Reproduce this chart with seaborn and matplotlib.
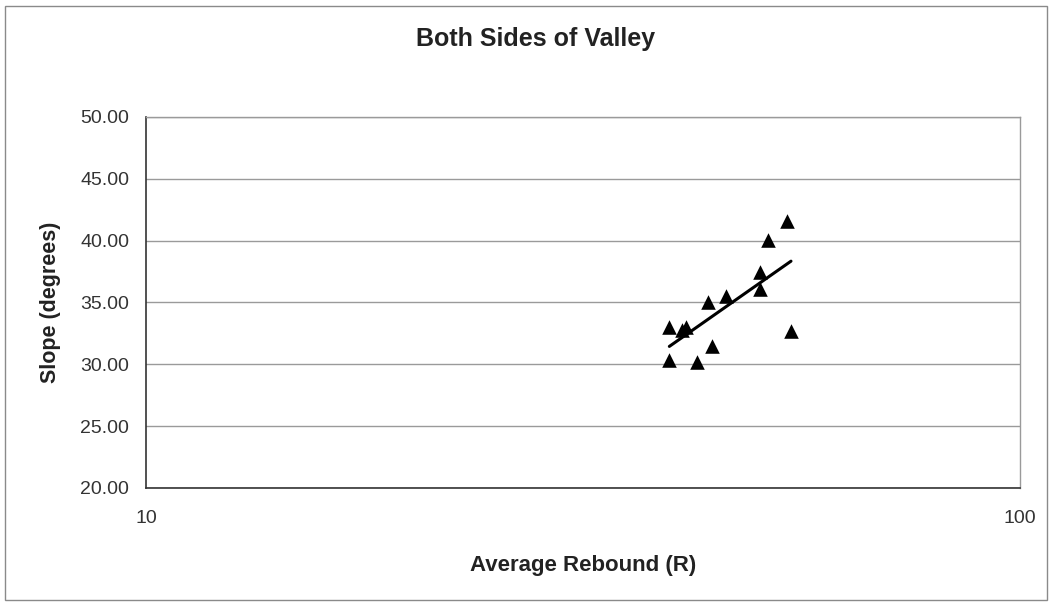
import numpy as np
import pandas as pd
import matplotlib
matplotlib.use("Agg")
import matplotlib.pyplot as plt
import seaborn as sns
from matplotlib.patches import Rectangle
from matplotlib.ticker import FixedLocator, FixedFormatter, NullLocator

# data
rebound = [39.7, 39.7, 41.0, 41.5, 42.7, 44.0, 44.4, 46.1, 50.4, 50.4, 51.5, 54.1, 54.7]
slope = [33.0, 30.35, 32.8, 33.0, 30.2, 35.0, 31.5, 35.5, 37.5, 36.1, 40.05, 41.6, 32.7]

y_ticks = [20, 25, 30, 35, 40, 45, 50]
x_ticks = [10, 100]
x_tick_labels = ["10", "100"]

df = pd.DataFrame({"rebound": rebound, "slope": slope})

sns.set_style("white")
plt.rcParams["font.family"] = ["Liberation Sans", "DejaVu Sans"]

fig = plt.figure(figsize=(10.51, 6.03), dpi=100)
ax = fig.add_axes([146 / 1051, 1 - 488 / 603, (1020 - 146) / 1051, (488 - 117) / 603])

sns.regplot(data=df, x="rebound", y="slope", logx=True, ci=None, ax=ax,
            marker="^", color="black",
            scatter_kws={"s": 110, "linewidths": 0, "alpha": 1, "zorder": 3},
            line_kws={"linewidth": 2.2, "zorder": 2})

ax.set_xscale("log")
ax.set_xlim(10, 100)
ax.set_ylim(20, 50)
ax.xaxis.set_major_locator(FixedLocator(x_ticks))
ax.xaxis.set_major_formatter(FixedFormatter(x_tick_labels))
ax.xaxis.set_minor_locator(NullLocator())
ax.set_yticks(y_ticks)
ax.set_yticklabels([f"{v:.2f}" for v in y_ticks])
ax.yaxis.grid(True, color="#9a9a9a", linewidth=1)
ax.xaxis.grid(False)

for side in ["top", "right"]:
    ax.spines[side].set_color("#9a9a9a")
    ax.spines[side].set_linewidth(1)
for side in ["left", "bottom"]:
    ax.spines[side].set_color("#333333")
    ax.spines[side].set_linewidth(1.2)

ax.tick_params(axis="both", which="major", direction="out", length=6, width=1,
               color="#333333", labelsize=14, labelcolor="#333333")
ax.tick_params(axis="x", pad=10)
ax.tick_params(axis="y", pad=6)

ax.set_xlabel("Average Rebound (R)", fontsize=16, fontweight="bold", color="#222222", labelpad=20)
ax.set_ylabel("Slope (degrees)", fontsize=15.5, fontweight="bold", color="#222222", labelpad=14)

fig.text(536 / 1051, 1 - 39 / 603, "Both Sides of Valley", ha="center", va="center",
         fontsize=18, fontweight="bold", color="#222222")

# outer chart border
fig.patches.append(Rectangle((5 / 1051, 3 / 603), 1042 / 1051, 594 / 603,
                             transform=fig.transFigure, fill=False,
                             edgecolor="#8a8a8a", linewidth=1))

fig.savefig("out.png", dpi=100)
